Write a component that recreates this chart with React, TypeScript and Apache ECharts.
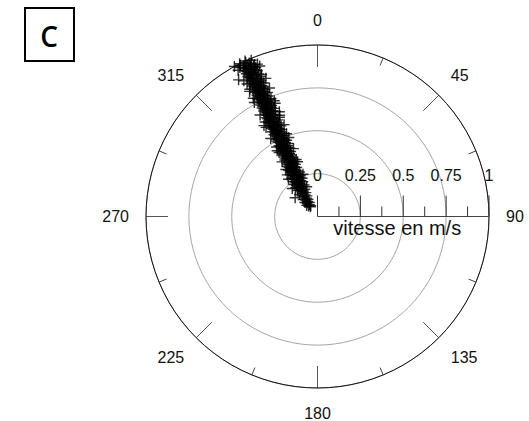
import React, { useEffect, useRef } from "react";
import * as echarts from "echarts";

// [wind speed (m/s), direction (degrees clockwise from north)]
const observations: number[][] = [
  [0.07, 324], [0.075, 328], [0.08, 320], [0.085, 326], [0.09, 316], [0.095, 330], [0.1, 322], [0.105, 327],
  [0.11, 318], [0.115, 331], [0.12, 324], [0.125, 329], [0.13, 320], [0.135, 333], [0.14, 326], [0.145, 330],
  [0.15, 323], [0.155, 334], [0.16, 328], [0.165, 321], [0.17, 310], [0.17, 331], [0.175, 335], [0.18, 326],
  [0.185, 330], [0.19, 323], [0.195, 333],
  [0.2, 325], [0.2, 331], [0.2, 337], [0.21, 328], [0.21, 334], [0.21, 323], [0.22, 332], [0.22, 326], [0.22, 337],
  [0.23, 329], [0.23, 335], [0.23, 324], [0.24, 333], [0.24, 327], [0.24, 338], [0.25, 330], [0.25, 336], [0.25, 325],
  [0.26, 333], [0.26, 328], [0.26, 337], [0.27, 331], [0.27, 326], [0.27, 336], [0.28, 334], [0.28, 329], [0.28, 338],
  [0.29, 327], [0.29, 332], [0.29, 336], [0.3, 330], [0.3, 335], [0.3, 328], [0.31, 333], [0.31, 337], [0.31, 329],
  [0.32, 331], [0.32, 335], [0.32, 328], [0.33, 334], [0.33, 330], [0.33, 337], [0.34, 332], [0.34, 336], [0.34, 329],
  [0.35, 334], [0.35, 330], [0.35, 337], [0.36, 332], [0.36, 336], [0.36, 330], [0.37, 335], [0.37, 331], [0.37, 337],
  [0.38, 333], [0.38, 336], [0.38, 330], [0.39, 334], [0.39, 331], [0.39, 337], [0.4, 332], [0.4, 336], [0.4, 334],
  [0.41, 331], [0.41, 334], [0.41, 337.5], [0.42, 333], [0.42, 336], [0.42, 331], [0.43, 335], [0.43, 332], [0.43, 338],
  [0.44, 333], [0.44, 336.5], [0.44, 331], [0.45, 334], [0.45, 337], [0.45, 332], [0.46, 332], [0.46, 335], [0.46, 338],
  [0.47, 334], [0.47, 336.5], [0.47, 331.5], [0.48, 333], [0.48, 335.5], [0.48, 338], [0.49, 335], [0.49, 332], [0.49, 337],
  [0.5, 333], [0.5, 336], [0.5, 331.5], [0.51, 334.5], [0.51, 337.5], [0.51, 332], [0.52, 333], [0.52, 335.5], [0.52, 338],
  [0.53, 335], [0.53, 332.5], [0.53, 337], [0.54, 333.5], [0.54, 336.5], [0.54, 332], [0.55, 335], [0.55, 337.5], [0.55, 333],
  [0.56, 334], [0.56, 336.5], [0.56, 332], [0.57, 335.5], [0.57, 333], [0.57, 338], [0.58, 334], [0.58, 336.5], [0.58, 332.5],
  [0.59, 335], [0.59, 337.5], [0.59, 333], [0.6, 334], [0.6, 336.5], [0.6, 332.5],
  [0.61, 335], [0.61, 333], [0.61, 337.5], [0.62, 334], [0.62, 336.5], [0.62, 332.5], [0.63, 331], [0.63, 335.5], [0.63, 339.5],
  [0.63, 333.5], [0.64, 335], [0.64, 337.5], [0.64, 333], [0.65, 334], [0.65, 336.5], [0.65, 332.5], [0.66, 335.5], [0.66, 333.5],
  [0.66, 338], [0.67, 334.5], [0.67, 337], [0.67, 333], [0.68, 336], [0.68, 333.5], [0.68, 338], [0.69, 334.5], [0.69, 337],
  [0.69, 333], [0.7, 335.5], [0.7, 333.5], [0.7, 337.5], [0.71, 334.5], [0.71, 336.5], [0.71, 333], [0.72, 335.5], [0.72, 337.5],
  [0.72, 333.5], [0.73, 334.5], [0.73, 336.5], [0.73, 333], [0.74, 335.5], [0.74, 337.5], [0.74, 334], [0.75, 334.5], [0.75, 336.5],
  [0.75, 333], [0.76, 335.5], [0.76, 337.5], [0.76, 333.5], [0.77, 334.5], [0.77, 336.5], [0.77, 333], [0.78, 336], [0.78, 334],
  [0.78, 338], [0.79, 335], [0.79, 337], [0.79, 333.5], [0.8, 336], [0.8, 334], [0.8, 337.5],
  [0.81, 335], [0.81, 337], [0.81, 333.5], [0.82, 336], [0.82, 334], [0.82, 337.5], [0.83, 335], [0.83, 337], [0.83, 333.5],
  [0.84, 336], [0.84, 334], [0.84, 338], [0.85, 335], [0.85, 337], [0.85, 333.5], [0.86, 336], [0.86, 334], [0.86, 337.5],
  [0.87, 335], [0.87, 337], [0.87, 333.5], [0.88, 336], [0.88, 334], [0.88, 338], [0.89, 335], [0.89, 338.5], [0.89, 333.5],
  [0.9, 336], [0.9, 334], [0.9, 337.5], [0.91, 335], [0.91, 337], [0.91, 333.5], [0.92, 330], [0.92, 336], [0.92, 334],
  [0.92, 337.5], [0.93, 335], [0.93, 337], [0.93, 333.5], [0.94, 336], [0.94, 334], [0.94, 337.5], [0.95, 335], [0.95, 337],
  [0.95, 333.5], [0.96, 336], [0.96, 334], [0.96, 337.5], [0.97, 335], [0.97, 336.5], [0.97, 333.5], [0.98, 334], [0.98, 336],
  [0.98, 332.5], [0.99, 335], [0.99, 333], [1.0, 333], [1.0, 335],
  // scattered observations along the edges of the band
  [0.22, 318], [0.26, 341], [0.3, 324], [0.34, 340], [0.38, 327], [0.42, 340.5], [0.45, 328.5], [0.49, 340],
  [0.53, 329], [0.57, 340], [0.6, 330], [0.65, 340], [0.68, 330.5], [0.72, 339.5], [0.76, 331], [0.8, 339.5],
  [0.83, 331.5], [0.86, 339.5], [0.9, 331.5], [0.94, 339], [0.97, 331.5], [0.955, 338.5], [0.875, 332], [0.785, 331.5],
  [0.705, 339.5], [0.615, 329.5], [0.515, 339.5], [0.435, 329], [0.355, 339.5], [0.275, 322], [0.185, 340], [0.33, 326],
  [0.47, 329.5], [0.62, 339], [0.74, 338.5], [0.84, 332], [0.99, 337], [1.0, 331],
];
const angleTicks = [0, 45, 90, 135, 180, 225, 270, 315];
const radiusTicks = [0, 0.25, 0.5, 0.75, 1];
const radiusMinorTicks = [0.125, 0.375, 0.625, 0.875];
const radiusName = "vitesse en m/s";
const panelLetter = "C";

const PLUS = "path://M4.35 0H5.65V4.35H10V5.65H5.65V10H4.35V5.65H0V4.35H4.35Z";

export default function App() {
  const ref = useRef<HTMLDivElement>(null);
  useEffect(() => {
    if (!ref.current) return;
    const chart = echarts.init(ref.current, null, { renderer: "svg" });
    const center = [317.5, 216.5];
    const radius = 171.5;
    const font = "Liberation Sans, Arial, sans-serif";
    const axisAngle = 90; // radial axis drawn toward east
    const tickData = [
      ...radiusTicks.map((v) => [v, axisAngle, 1]),
      ...radiusMinorTicks.map((v) => [v, axisAngle, 0]),
    ];
    chart.setOption({
      animation: false,
      backgroundColor: "#fff",
      polar: [
        { center, radius },
        { center, radius },
      ],
      angleAxis: [
        {
          polarIndex: 0,
          type: "value",
          min: 0,
          max: 360,
          interval: 45,
          startAngle: 90,
          clockwise: true,
          axisLine: { show: true, lineStyle: { color: "#111", width: 1 } },
          axisTick: { show: true, inside: true, length: 22, lineStyle: { color: "#555", width: 1 } },
          minorTick: { show: true, splitNumber: 2, length: 8, lineStyle: { color: "#444", width: 1 } },
          splitLine: { show: false },
          axisLabel: {
            show: true,
            margin: 17,
            fontSize: 16,
            color: "#111",
            fontFamily: font,
            formatter: (v: number) => (angleTicks.includes(v) ? String(v) : ""),
          },
        },
        {
          polarIndex: 1,
          type: "value",
          min: 0,
          max: 360,
          startAngle: 0,
          axisLine: { show: false },
          axisTick: { show: false },
          axisLabel: { show: false },
          splitLine: { show: false },
        },
      ],
      radiusAxis: [
        {
          polarIndex: 0,
          type: "value",
          min: radiusTicks[0],
          max: radiusTicks[radiusTicks.length - 1],
          interval: 0.25,
          axisLine: { show: false },
          axisTick: { show: false },
          axisLabel: { show: false },
          splitLine: { show: true, lineStyle: { color: "#a6a6a6", width: 1 } },
        },
        {
          polarIndex: 1,
          type: "value",
          min: radiusTicks[0],
          max: radiusTicks[radiusTicks.length - 1],
          interval: 0.25,
          axisLine: { show: false },
          axisTick: { show: false },
          splitLine: { show: false },
          axisLabel: {
            show: true,
            margin: 33,
            fontSize: 16,
            color: "#111",
            fontFamily: font,
            formatter: (v: number) => String(v),
          },
          name: radiusName,
          nameLocation: "middle",
          nameGap: -3,
          nameTextStyle: { fontSize: 20, color: "#111", fontFamily: font, padding: [0, 12, 0, 0] },
        },
      ],
      series: [
        {
          type: "custom",
          coordinateSystem: "polar",
          polarIndex: 0,
          data: tickData,
          silent: true,
          z: 3,
          renderItem: (params: any, api: any) => {
            const v = api.value(0);
            const a = api.value(1);
            const major = api.value(2) === 1;
            const p = api.coord([v, a]);
            const len = major ? 21 : 10;
            const children: any[] = [
              {
                type: "line",
                shape: { x1: p[0], y1: p[1], x2: p[0], y2: p[1] - len },
                style: { stroke: "#333", lineWidth: 1 },
              },
            ];
            if (params.dataIndex === 0) {
              const q = api.coord([radiusTicks[radiusTicks.length - 1], a]);
              children.push({
                type: "line",
                shape: { x1: p[0], y1: p[1], x2: q[0], y2: q[1] },
                style: { stroke: "#444", lineWidth: 1 },
              });
            }
            return { type: "group", children };
          },
        },
        {
          type: "scatter",
          coordinateSystem: "polar",
          polarIndex: 0,
          symbol: PLUS,
          symbolSize: 11,
          itemStyle: { color: "#000" },
          data: observations,
          z: 5,
        },
      ],
      graphic: [
        {
          type: "rect",
          shape: { x: 25, y: 8, width: 49, height: 53 },
          style: { fill: "#fff", stroke: "#000", lineWidth: 2 },
        },
        {
          type: "text",
          x: 49,
          y: 36,
          style: {
            text: panelLetter,
            fontSize: 28,
            fontWeight: 600,
            fontFamily: "Open Sans, Noto Sans, sans-serif",
            fill: "#000",
            align: "center",
            verticalAlign: "middle",
          },
        },
      ],
    });
    return () => chart.dispose();
  }, []);
  return (
    <div
      ref={ref}
      style={{ position: "fixed", left: 0, top: 0, width: 529, height: 421 }}
    />
  );
}
